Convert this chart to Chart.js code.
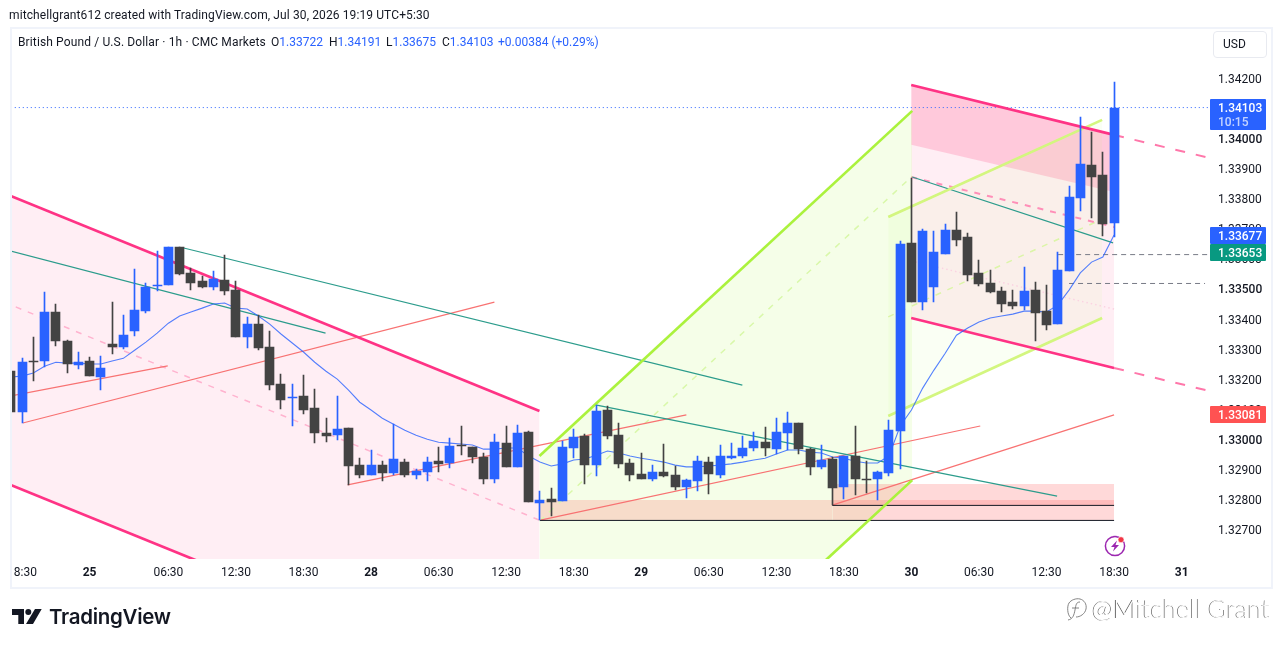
<!DOCTYPE html>
<html lang="en">
  <head>
    <meta charset="utf-8" />
    <title>GBPUSD 1h</title>
    <script src="https://cdn.jsdelivr.net/npm/chart.js"></script>
    <style>
      html, body { margin: 0; padding: 0; background: #fff; width: 1281px; height: 647px; overflow: hidden; }
      body, .txt { font-family: "Roboto", "Liberation Sans", sans-serif; font-size: 12px; color: #131722; }
      canvas { position: absolute; left: 0; top: 0; }
      .txt { position: absolute; white-space: nowrap; line-height: 16px; }
      .val { color: #2962ff; }
      #frame { position: absolute; left: 10px; top: 27px; width: 1259px; height: 558px; border: 2px solid #f0f3fa; }
      #cover { position: absolute; left: 0; top: 28px; width: 10px; height: 560px; background: #fff; }
      #usd { position: absolute; left: 1213px; top: 31px; width: 52px; height: 25px; border: 1px solid #e8eaf0; border-radius: 4px; line-height: 25px; text-indent: 9px; }
      .tag { position: absolute; left: 1210px; width: 56px; color: #fff; text-indent: 8px; line-height: 19px; border-radius: 1px; }
      .tag span { display: block; line-height: 12px; margin-top: -2px; color: rgba(255,255,255,.72); }
      #brand { position: absolute; left: 49px; top: 604px; font-family: Inter, sans-serif; font-weight: 600; font-size: 20.5px; line-height: 26px; color: #131722; letter-spacing: -0.3px; }
      #mark { position: absolute; left: 1092px; top: 591px; font-family: Lato, sans-serif; font-weight: 300; font-size: 25.5px; line-height: 34px; color: #fff; text-shadow: -0.8px 0.3px 0.4px #666; white-space: nowrap; }
      svg { position: absolute; }
    </style>
  </head>
  <body>
    <canvas id="myChart" width="1281" height="647"></canvas>
    <div id="cover"></div>
    <div id="frame"></div>

    <div class="txt" style="left:9px;top:7px;letter-spacing:.11px">mitchellgrant612 created with TradingView.com, Jul 30, 2026 19:19 UTC+5:30</div>
    <div class="txt" style="left:18px;top:34px;letter-spacing:.13px">British Pound / U.S. Dollar · 1h · CMC Markets</div>
    <div class="txt" style="left:271px;top:34px">O<span class="val">1.33722</span></div>
    <div class="txt" style="left:329px;top:34px">H<span class="val">1.34191</span></div>
    <div class="txt" style="left:386px;top:34px">L<span class="val">1.33675</span></div>
    <div class="txt" style="left:442px;top:34px">C<span class="val">1.34103</span></div>
    <div class="txt val" style="left:498px;top:34px">+0.00384 (+0.29%)</div>
    <div id="usd">USD</div>
    <div id="tags"></div>

    <svg style="left:12px;top:609px" width="31" height="16" viewBox="0 0 31 16">
      <path d="M0 0H12V15H6.3V6H0Z M29.7 0H23L14 15H21Z" fill="#131722" />
      <circle cx="16.3" cy="3" r="3" fill="#131722" />
    </svg>
    <div id="brand">TradingView</div>

    <svg style="left:1064px;top:596px" width="26" height="26" viewBox="0 0 26 26" fill="none" stroke="#777" stroke-width="0.9">
      <path d="M7 22C3 19 3 10 5 7S12 2 16 3S23 8 22 13S16 21 12 21" />
      <path d="M16 6C12 6 12 9 11 14S9 23 4 24 M8 12H15" />
    </svg>
    <div id="mark">@Mitchell Grant</div>

    <svg style="left:1103px;top:534px" width="24" height="24" viewBox="0 0 24 24">
      <circle cx="12" cy="12" r="9.6" fill="none" stroke="#9c27b0" stroke-width="1.5" />
      <path d="M14 6.5L8 13H11.5L10 17.5L16 11H12.5Z" fill="#9c27b0" />
      <circle cx="18" cy="5.7" r="3" fill="#f23645" stroke="#fff" stroke-width="0.6" />
    </svg>

    <script>
      var opens = [1.33228,1.33092,1.33262,1.33262,1.33425,1.33328,1.33248,1.33262,1.33209,1.33318,1.33308,1.33362,1.33428,1.33512,1.33515,1.33642,1.33555,1.33528,1.33508,1.33532,
        1.33498,1.33342,1.33385,1.33308,1.33185,1.33139,1.33145,1.33105,1.33022,1.33015,1.33039,1.32916,1.32883,1.32916,1.32890,1.32926,1.32883,1.32893,1.32929,1.32923,
        1.32983,1.32976,1.32943,1.32870,1.32989,1.32910,1.33026,1.32790,1.32803,1.32797,1.32973,1.33012,1.32916,1.33099,1.33015,1.32923,1.32886,1.32870,1.32893,1.32883,
        1.32843,1.32863,1.32926,1.32883,1.32939,1.32946,1.32973,1.32992,1.32969,1.33022,1.33056,1.32969,1.32910,1.32936,1.32843,1.32946,1.32870,1.32870,1.32890,1.33029,
        1.33655,1.33458,1.33508,1.33618,1.33698,1.33675,1.33555,1.33522,1.33495,1.33458,1.33445,1.33498,1.33428,1.33385,1.33562,1.33805,1.33914,1.33881,1.33722];
      var closes = [1.33092,1.33258,1.33258,1.33425,1.33328,1.33252,1.33258,1.33212,1.33238,1.33308,1.33348,1.33432,1.33508,1.33515,1.33642,1.33552,1.33522,1.33508,1.33535,1.33495,
        1.33342,1.33385,1.33305,1.33182,1.33132,1.33142,1.33099,1.33022,1.33012,1.33035,1.32913,1.32883,1.32916,1.32890,1.32936,1.32883,1.32896,1.32926,1.32920,1.32979,
        1.32979,1.32943,1.32870,1.32992,1.32910,1.33022,1.32793,1.32800,1.32793,1.32976,1.33009,1.32916,1.33095,1.33012,1.32920,1.32883,1.32870,1.32893,1.32880,1.32843,
        1.32866,1.32929,1.32886,1.32946,1.32946,1.32973,1.32996,1.32973,1.33026,1.33056,1.32969,1.32910,1.32932,1.32840,1.32946,1.32870,1.32866,1.32893,1.33032,1.33652,
        1.33458,1.33695,1.33625,1.33698,1.33665,1.33549,1.33518,1.33492,1.33452,1.33445,1.33495,1.33422,1.33382,1.33565,1.33808,1.33917,1.33874,1.33718,1.34103];
      var highs = [1.33228,1.33271,1.33342,1.33492,1.33452,1.33332,1.33292,1.33275,1.33278,1.33458,1.33415,1.33568,1.33522,1.33628,1.33642,1.33642,1.33572,1.33545,1.33562,1.33615,
        1.33528,1.33408,1.33415,1.33362,1.33218,1.33185,1.33215,1.33169,1.33072,1.33145,1.33039,1.32939,1.32966,1.32929,1.33052,1.32936,1.32903,1.32943,1.32976,1.33006,
        1.33046,1.32976,1.32956,1.33019,1.33046,1.33049,1.33029,1.32830,1.32840,1.32996,1.33035,1.33019,1.33115,1.33112,1.33056,1.32936,1.32956,1.32916,1.32986,1.32913,
        1.32870,1.32946,1.32943,1.32983,1.32989,1.33012,1.33026,1.33042,1.33072,1.33092,1.33056,1.32973,1.32983,1.32943,1.32946,1.33046,1.32929,1.32896,1.33065,1.33662,
        1.33871,1.33702,1.33695,1.33718,1.33758,1.33688,1.33598,1.33565,1.33508,1.33498,1.33575,1.33525,1.33515,1.33625,1.33844,1.34074,1.34024,1.33957,1.34191];
      var lows = [1.33092,1.33056,1.33195,1.33242,1.33312,1.33222,1.33235,1.33212,1.33165,1.33285,1.33301,1.33345,1.33422,1.33495,1.33515,1.33549,1.33498,1.33505,1.33498,1.33482,
        1.33342,1.33305,1.33298,1.33165,1.33102,1.33046,1.33085,1.32989,1.32992,1.32999,1.32850,1.32873,1.32883,1.32863,1.32883,1.32876,1.32870,1.32863,1.32893,1.32906,
        1.32949,1.32923,1.32853,1.32857,1.32910,1.32910,1.32793,1.32734,1.32747,1.32797,1.32939,1.32853,1.32880,1.33002,1.32906,1.32863,1.32870,1.32863,1.32876,1.32833,
        1.32807,1.32830,1.32820,1.32873,1.32936,1.32939,1.32963,1.32946,1.32953,1.32966,1.32953,1.32883,1.32903,1.32783,1.32803,1.32817,1.32823,1.32800,1.32880,1.32903,
        1.33458,1.33432,1.33458,1.33618,1.33645,1.33528,1.33512,1.33488,1.33425,1.33435,1.33432,1.33328,1.33365,1.33385,1.33562,1.33761,1.33738,1.33678,1.33675];
      var movingAverage = [1.33209,1.33212,1.33222,1.33245,1.33258,1.33255,1.33255,1.33252,1.33252,1.33262,1.33271,1.33298,1.33325,1.33355,1.33388,1.33412,1.33425,1.33438,1.33452,1.33455,
        1.33438,1.33435,1.33412,1.33385,1.33352,1.33322,1.33292,1.33258,1.33228,1.33202,1.33165,1.33125,1.33099,1.33072,1.33052,1.33032,1.33015,1.33002,1.32992,1.32989,
        1.32986,1.32983,1.32969,1.32969,1.32973,1.32973,1.32946,1.32926,1.32913,1.32920,1.32933,1.32936,1.32949,1.32963,1.32956,1.32946,1.32939,1.32933,1.32926,1.32916,
        1.32910,1.32910,1.32913,1.32916,1.32920,1.32926,1.32933,1.32939,1.32953,1.32966,1.32966,1.32959,1.32956,1.32943,1.32939,1.32929,1.32923,1.32923,1.32946,1.33046,
        1.33099,1.33172,1.33232,1.33288,1.33348,1.33372,1.33392,1.33405,1.33412,1.33418,1.33428,1.33428,1.33425,1.33448,1.33498,1.33555,1.33591,1.33608,1.33681];

      var yTicks = [1.327,1.328,1.329,1.33,1.331,1.332,1.333,1.334,1.335,1.336,1.337,1.338,1.339,1.34,1.341,1.342];
      var yBoldTicks = [1.33,1.335,1.34];
      var xTicks = [1,7,14,20,26,32,38,44,50,56,62,68,74,80,86,92,98,104];
      var xLabels = ["18:30","25","06:30","12:30","18:30","28","06:30","12:30","18:30","29","06:30","12:30","18:30","30","06:30","12:30","18:30","31"];
      var xBoldLabels = ["25","28","29","30","31"];

      // Drawings: [bar index, price] end points
      var leftChannelTop = [[0,1.33811],[46.96,1.33096]];
      var leftChannelBottom = [[0,1.32850],[46.96,1.32135]];
      var leftChannelMid = [[0.44,1.33442],[46.96,1.32733]];
      var greenTop = [[46.96,1.32946],[80.07,1.34094]];
      var greenBottom = [[46.96,1.31719],[80.07,1.32866]];
      var greenMid = [[46.96,1.32730],[80.07,1.33877]];
      var rightTop = [[79.98,1.34180],[98,1.34014]];
      var rightTopExt = [[98,1.34014],[106.52,1.33937]];
      var rightBottom = [[79.98,1.33405],[98,1.33239]];
      var rightBottomExt = [[98,1.33239],[106.52,1.33162]];
      var rightInner = [[79.98,1.33981],[98,1.33824]];
      var rightDashed = [[79.98,1.33874],[98,1.33708]];
      var rightDotted = [[79.98,1.33595],[98,1.33435]];
      var limeTop = [[77.94,1.33741],[96.94,1.34064]];
      var limeBottom = [[77.94,1.33079],[96.94,1.33405]];
      var limeMid = [[77.94,1.33409],[96.94,1.33734]];
      var boxLeft = [[46.96,1.32800],[72.97,1.32800]];
      var boxRight = [[72.97,1.32853],[98,1.32853]];
      var boxRightStrip = [[72.97,1.32800],[98,1.32800]];
      var boxFloor = 1.32733;
      var stripFloor = 1.32783;
      var blackLines = [[[47,1.32732],[98,1.32732]],[[72.97,1.32782],[98,1.32782]]];
      var tealLines = [[[0,1.33628],[27.96,1.33355]],[[15.36,1.33638],[64.98,1.33182]],[[51.93,1.33116],[92.94,1.32813]],[[80.07,1.33874],[97.91,1.33655]]];
      var redLines = [[[0,1.33146],[13.94,1.33246]],[[1.07,1.33056],[42.96,1.33458]],[[29.92,1.32850],[60.01,1.33083]],[[47.05,1.32733],[86.11,1.33046]],[[72.97,1.32783],[98,1.33083]]];
      var grayLines = [[[93.03,1.33616],[106.52,1.33616]],[[94,1.33520],[106.08,1.33520]]];
      var lastPriceLine = [[0,1.34105],[106.52,1.34105]];

      var priceTags = [
        { value: 1.34103, text: "1.34103", sub: "10:15", color: "#2962ff" },
        { value: 1.33677, text: "1.33677", color: "#2962ff" },
        { value: 1.33653, text: "1.33653", color: "#089981" },
        { value: 1.33081, text: "1.33081", color: "#ff5252" }
      ];

      var BLUE = "#2962ff";
      var DARK = "#434343";
      var PINK = "#ff3385";
      var LIME = "#abf23d";

      function pts(list) {
        return list.map(function (p) { return { x: p[0], y: p[1] }; });
      }

      function line(list, color, width, dash, order) {
        return {
          type: "line",
          data: pts(list),
          borderColor: color,
          borderWidth: width,
          borderDash: dash || [],
          pointRadius: 0,
          tension: 0,
          fill: false,
          order: order
        };
      }

      // band between this line and the next dataset in the list
      function band(list, color, order) {
        var d = line(list, "transparent", 0, null, order);
        d.fill = "+1";
        d.backgroundColor = color;
        return d;
      }

      function box(list, floor, color, order) {
        var d = line(list, "transparent", 0, null, order);
        d.fill = { value: floor };
        d.backgroundColor = color;
        return d;
      }

      var wicks = lows.map(function (l, i) { return { x: i, y: [l, highs[i]] }; });
      var bodies = opens.map(function (o, i) { return { x: i, y: [o, closes[i]] }; });
      var bodyColors = opens.map(function (o, i) { return closes[i] >= o ? BLUE : DARK; });
      var maPoints = movingAverage.map(function (v, i) { return [i, v]; });

      var datasets = [
        { type: "bar", data: bodies, backgroundColor: bodyColors, barThickness: 9, minBarLength: 1, grouped: false, order: 0 },
        { type: "bar", data: wicks, backgroundColor: bodyColors, barThickness: 1, grouped: false, order: 1 },
        line(maPoints, "rgba(41,98,255,.8)", 1.1, null, 2),

        line(leftChannelTop, PINK, 2.7, null, 3),
        line(leftChannelBottom, PINK, 2.7, null, 3),
        line(leftChannelMid, "#ffb3cf", 1.5, [6, 7], 4),
        line(greenTop, LIME, 2.7, null, 3),
        line(greenBottom, LIME, 2.7, null, 3),
        line(greenMid, "#d9f8aa", 1.5, [6, 7], 4),
        line(rightTop, PINK, 2.7, null, 3),
        line(rightBottom, PINK, 2.7, null, 3),
        line(rightTopExt, "#ff77aa", 2, [10, 11], 3),
        line(rightBottomExt, "#ff77aa", 2, [10, 11], 3),
        line(rightDashed, "#ff8fb8", 2, [6, 7], 4),
        line(rightDotted, "#fbd3e2", 1.5, [1.5, 3], 4),
        line(limeTop, "#d3f67f", 2.7, null, 3),
        line(limeBottom, "#d3f67f", 2.7, null, 3),
        line(limeMid, "#dcf5a8", 1.5, [6, 7], 4),
        line(lastPriceLine, BLUE, 1, [1, 3], 3)
      ];
      blackLines.forEach(function (l) { datasets.push(line(l, "#131722", 1, null, 3)); });
      tealLines.forEach(function (l) { datasets.push(line(l, "#2c9c8c", 1.2, null, 3)); });
      redLines.forEach(function (l) { datasets.push(line(l, "#f87272", 1.2, null, 3)); });
      grayLines.forEach(function (l) { datasets.push(line(l, "#787b86", 1, [5, 4], 3)); });

      // fills go last and get the highest order so they sit under everything
      datasets.push(band(leftChannelTop, "rgba(255,64,129,.09)", 20));
      datasets.push(line(leftChannelBottom, "transparent", 0, null, 21));
      datasets.push(band(greenTop, "rgba(172,247,63,.12)", 19));
      datasets.push(line(greenBottom, "transparent", 0, null, 21));
      datasets.push(band(rightTop, "rgba(255,64,129,.09)", 18));
      datasets.push(line(rightBottom, "transparent", 0, null, 21));
      datasets.push(band(rightTop, "rgba(255,64,129,.21)", 17));
      datasets.push(line(rightInner, "transparent", 0, null, 21));
      datasets.push(band(limeTop, "rgba(172,247,63,.06)", 16));
      datasets.push(line(limeBottom, "transparent", 0, null, 21));
      datasets.push(box(boxLeft, boxFloor, "rgba(255,80,80,.2)", 15));
      datasets.push(box(boxRight, boxFloor, "rgba(255,80,80,.22)", 14));
      datasets.push(box(boxRightStrip, stripFloor, "rgba(255,80,80,.21)", 13));

      // snap candles to whole pixels so they stay crisp
      var snapCandles = {
        id: "snapCandles",
        beforeDatasetsDraw: function (chart) {
          chart.getSortedVisibleDatasetMetas().forEach(function (meta) {
            if (meta.type !== "bar") return;
            meta.data.forEach(function (el) {
              el.x = Math.floor(el.x) + 0.5;
              el.y = Math.round(el.y);
              el.base = Math.round(el.base);
            });
          });
        }
      };

      var myChart = new Chart(document.getElementById("myChart").getContext("2d"), {
        type: "bar",
        data: { datasets: datasets },
        plugins: [snapCandles],
        options: {
          responsive: false,
          devicePixelRatio: 1,
          animation: false,
          events: [],
          layout: { padding: { left: 11, top: 28, right: 11, bottom: 60 } },
          plugins: { legend: { display: false }, tooltip: { enabled: false } },
          scales: {
            x: {
              type: "linear",
              offset: false,
              min: 0.0888,
              max: 106.52,
              grid: { display: false, drawTicks: false },
              border: { display: false },
              afterBuildTicks: function (scale) {
                scale.ticks = xTicks.map(function (v) { return { value: v }; });
              },
              afterFit: function (scale) { scale.height = 28; },
              ticks: {
                autoSkip: false,
                maxRotation: 0,
                padding: 7,
                color: "#131722",
                font: function (ctx) {
                  var label = xLabels[ctx.index];
                  return { family: "Roboto", size: 12, weight: xBoldLabels.indexOf(label) >= 0 ? "bold" : "normal" };
                },
                callback: function (v) { return xLabels[xTicks.indexOf(v)]; }
              }
            },
            y: {
              position: "right",
              min: 1.326037,
              max: 1.343696,
              grid: { display: false, drawTicks: false },
              border: { display: false },
              afterBuildTicks: function (scale) {
                scale.ticks = yTicks.map(function (v) { return { value: v }; });
              },
              afterFit: function (scale) { scale.width = 60; },
              ticks: {
                autoSkip: false,
                padding: 8,
                labelOffset: 1,
                color: "#131722",
                font: function (ctx) {
                  var v = yTicks[ctx.index];
                  return { family: "Roboto", size: 12, weight: yBoldTicks.indexOf(v) >= 0 ? "500" : "normal" };
                },
                callback: function (v) { return Number(v).toFixed(5); }
              }
            }
          }
        }
      });

      // price labels on the scale, pushed down when they would overlap
      var lastBottom = 0;
      priceTags.forEach(function (t) {
        var el = document.createElement("div");
        el.className = "tag txt";
        var h = t.sub ? 31 : 17;
        var top = Math.round(myChart.scales.y.getPixelForValue(t.value)) - 9;
        if (top < lastBottom) top = lastBottom;
        el.style.top = top + "px";
        el.style.height = h + "px";
        el.style.background = t.color;
        el.style.color = "#fff";
        el.style.fontWeight = "500";
        el.textContent = t.text;
        if (t.sub) {
          var s = document.createElement("span");
          s.textContent = t.sub;
          el.appendChild(s);
        }
        document.getElementById("tags").appendChild(el);
        lastBottom = top + h;
      });
    </script>
  </body>
</html>
